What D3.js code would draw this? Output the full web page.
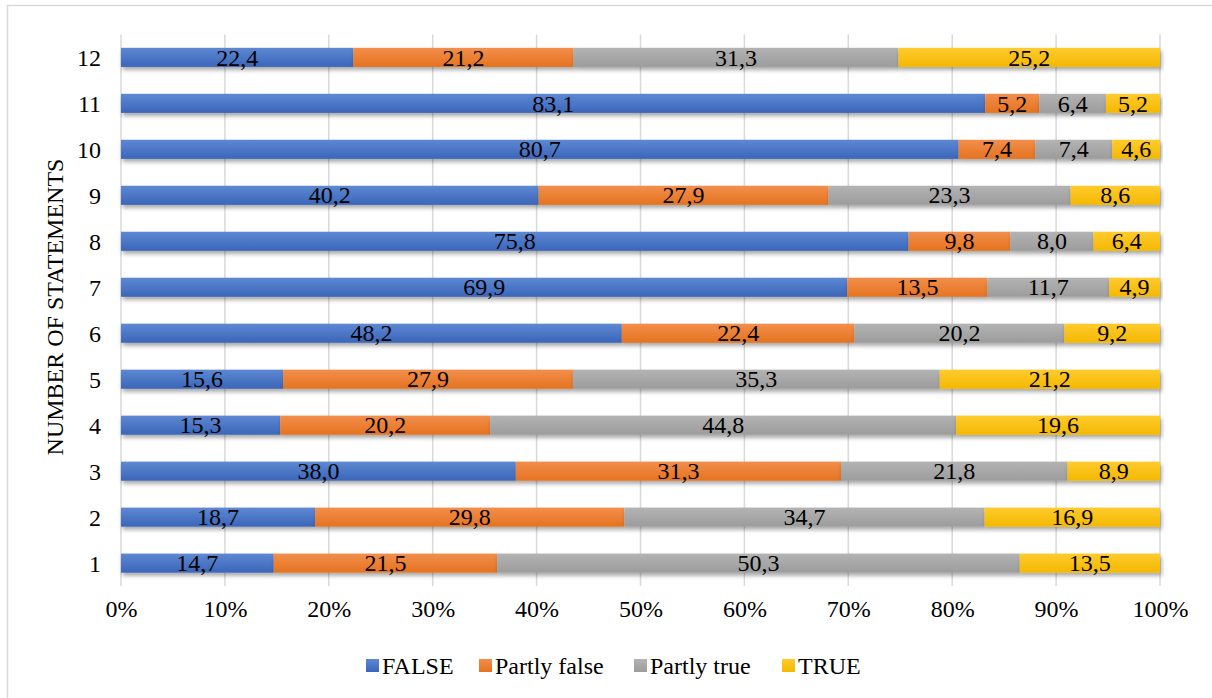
<!DOCTYPE html>
<html><head><meta charset="utf-8">
<script src="https://cdn.jsdelivr.net/npm/d3@7"></script>
<style>body{margin:0;background:#fff}svg{display:block}text{font-family:"Liberation Serif","Times New Roman",serif}</style>
</head><body><svg id="c" width="1212" height="698"></svg>
<script>
const categories = ["1","2","3","4","5","6","7","8","9","10","11","12"];
const seriesNames = ["FALSE","Partly false","Partly true","TRUE"];
const falseVals = [14.7,18.7,38.0,15.3,15.6,48.2,69.9,75.8,40.2,80.7,83.1,22.4];
const partlyFalseVals = [21.5,29.8,31.3,20.2,27.9,22.4,13.5,9.8,27.9,7.4,5.2,21.2];
const partlyTrueVals = [50.3,34.7,21.8,44.8,35.3,20.2,11.7,8.0,23.3,7.4,6.4,31.3];
const trueVals = [13.5,16.9,8.9,19.6,21.2,9.2,4.9,6.4,8.6,4.6,5.2,25.2];
const xTicks = [0,0.1,0.2,0.3,0.4,0.5,0.6,0.7,0.8,0.9,1.0];
const colors = ["#4472C4","#ED7D31","#A5A5A5","#FFC000"];
const lightColors = ["#5E88D2","#F28E4C","#B3B3B3","#FFCB2E"];
const darkColors = ["#3A66BA","#E5731F","#9C9C9C","#F4B800"];
const FS = 24;

const seriesVals = [falseVals, partlyFalseVals, partlyTrueVals, trueVals];
const rows = categories.map((c,i)=>{
  const r = {cat:c}; seriesNames.forEach((s,k)=>r[s]=seriesVals[k][i]); return r;
});
const stacked = d3.stack().keys(seriesNames).offset(d3.stackOffsetExpand)(rows);

const svg = d3.select("#c");
const defs = svg.append("defs");
colors.forEach((c,k)=>{
  const g = defs.append("linearGradient").attr("id","g"+k).attr("x1",0).attr("y1",0).attr("x2",0).attr("y2",1);
  g.append("stop").attr("offset","0%").attr("stop-color",lightColors[k]);
  g.append("stop").attr("offset","100%").attr("stop-color",darkColors[k]);
});
const f = defs.append("filter").attr("id","sh").attr("x","-5%").attr("y","-30%").attr("width","110%").attr("height","190%");
f.append("feDropShadow").attr("dx",1.5).attr("dy",3).attr("stdDeviation",2.2).attr("flood-color","#000").attr("flood-opacity",0.35);

// outer border
svg.append("rect").attr("x",7.5).attr("y",5.5).attr("width",1230).attr("height",720).attr("fill","none").attr("stroke","#D9D9D9").attr("stroke-width",1.5);

const x = d3.scaleLinear().domain([0,1]).range([121,1160]);
const y = d3.scaleBand().domain(categories.slice().reverse()).range([34.5,586]).paddingInner(0.585).paddingOuter(0.29);

// gridlines
svg.append("g").selectAll("line").data(xTicks).join("line")
  .attr("x1",d=>x(d)).attr("x2",d=>x(d)).attr("y1",34.5).attr("y2",586)
  .attr("stroke","#D9D9D9").attr("stroke-width",1.5);

// x axis labels
const xAxis = d3.axisBottom(x).tickValues(xTicks).tickFormat(d3.format(".0%")).tickSize(0).tickPadding(0);
const gx = svg.append("g").attr("transform","translate(0,599)").call(xAxis);
gx.select(".domain").remove();
gx.attr("font-family",null);
gx.selectAll("text").attr("font-size",FS).attr("fill","#000").attr("dy","0.75em");

// y axis labels
const yAxis = d3.axisLeft(y).tickSize(0).tickPadding(0);
const gy = svg.append("g").attr("transform","translate(101,0)").call(yAxis);
gy.select(".domain").remove();
gy.attr("font-family",null);
gy.selectAll("text").attr("font-size",FS).attr("fill","#000").attr("dy","0.35em");

// bars
const layers = svg.append("g").selectAll("g").data(stacked).join("g").attr("fill",(d,k)=>`url(#g${k})`);
layers.selectAll("rect").data(d=>d).join("rect")
  .attr("x",d=>x(d[0])).attr("width",d=>x(d[1])-x(d[0]))
  .attr("y",d=>y(d.data.cat)).attr("height",y.bandwidth())
  .attr("filter","url(#sh)");

// labels
const lg = svg.append("g");
stacked.forEach((layer,k)=>{
  lg.selectAll(null).data(layer).join("text")
    .attr("x",d=>(x(d[0])+x(d[1]))/2)
    .attr("y",d=>y(d.data.cat)+y.bandwidth()/2)
    .attr("dy","0.34em").attr("text-anchor","middle").attr("font-size",FS).attr("fill","#000")
    .text(d=>d3.format(".1f")(d.data[layer.key]).replace(".",","));
});

// y title
svg.append("text").attr("transform","translate(63,307) rotate(-90)").attr("text-anchor","middle")
  .attr("font-size",FS).attr("fill","#000").text("NUMBER OF STATEMENTS");

// legend
const legX = [366,479,634,782];
const leg = svg.append("g");
seriesNames.forEach((s,k)=>{
  leg.append("rect").attr("x",legX[k]).attr("y",659).attr("width",13).attr("height",13).attr("fill",`url(#g${k})`);
  leg.append("text").attr("x",legX[k]+16).attr("y",665.5).attr("dy","0.34em").attr("font-size",FS).attr("fill","#000").text(s);
});
</script></body></html>
